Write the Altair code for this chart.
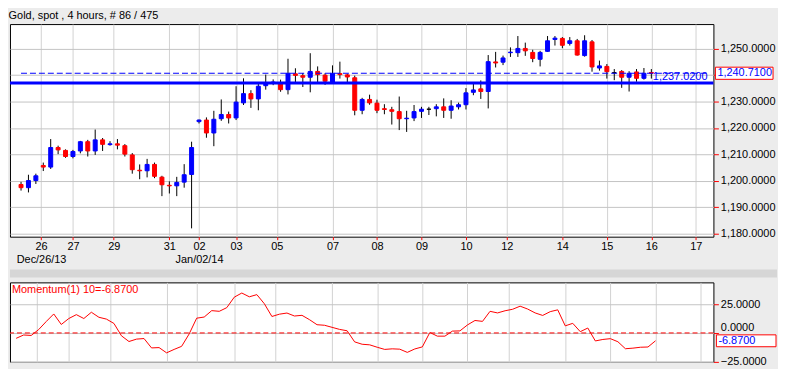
import altair as alt
import pandas as pd

title_text = "Gold, spot , 4 hours, # 86 / 475"

opens = [1198.6, 1197.4, 1200.1, 1205.8, 1205.2, 1212.6, 1211.5, 1209.2, 1211.3, 1214.8,
         1211.3, 1215.5, 1213.7, 1214.0, 1213.3, 1209.8, 1204.0, 1203.8, 1206.2, 1201.4,
         1198.3, 1198.1, 1199.5, 1202.4, 1222.4, 1223.0, 1218.1, 1223.5, 1225.1, 1223.8,
         1229.5, 1233.0, 1231.0, 1236.0, 1236.9, 1236.9, 1234.5, 1240.5, 1239.8, 1239.2,
         1241.4, 1240.0, 1237.4, 1240.6, 1240.1, 1239.0, 1226.7, 1230.8, 1229.4, 1227.3,
         1226.9, 1226.2, 1223.5, 1223.8, 1226.3, 1227.1, 1227.3, 1228.0, 1226.7, 1228.0,
         1228.8, 1233.5, 1234.8, 1233.8, 1245.0, 1244.9, 1248.5, 1248.5, 1250.1, 1248.6,
         1246.0, 1249.0, 1253.5, 1253.9, 1252.0, 1253.0, 1247.4, 1252.6, 1242.7, 1243.3,
         1240.9, 1241.4, 1239.2, 1241.2, 1238.8, 1241.0]
closes = [1197.4, 1200.1, 1201.9, 1205.2, 1212.6, 1211.7, 1209.2, 1211.1, 1214.8, 1211.3,
          1215.5, 1213.8, 1214.0, 1213.5, 1210.1, 1204.2, 1203.8, 1206.2, 1201.7, 1198.5,
          1198.1, 1199.4, 1202.3, 1212.6, 1223.0, 1218.1, 1223.3, 1225.1, 1223.8, 1229.8,
          1233.0, 1231.0, 1235.8, 1237.1, 1237.4, 1234.5, 1240.7, 1239.9, 1239.2, 1241.4,
          1240.2, 1237.7, 1240.7, 1240.2, 1239.3, 1226.7, 1230.8, 1229.5, 1226.7, 1227.0,
          1226.3, 1223.5, 1223.7, 1226.2, 1227.1, 1227.1, 1228.0, 1226.7, 1228.3, 1228.8,
          1233.3, 1234.4, 1233.8, 1245.1, 1244.6, 1246.5, 1248.7, 1250.1, 1249.2, 1246.3,
          1248.6, 1253.0, 1254.0, 1251.3, 1253.0, 1247.6, 1253.0, 1243.1, 1243.5, 1241.3,
          1240.9, 1239.2, 1240.7, 1238.8, 1240.7, 1240.71]
highs = [1199.6, 1202.3, 1202.7, 1206.9, 1215.8, 1213.3, 1211.9, 1211.7, 1215.1, 1215.5,
         1219.4, 1216.2, 1215.0, 1215.8, 1213.9, 1210.5, 1206.2, 1208.3, 1206.9, 1201.9,
         1199.8, 1201.5, 1206.3, 1214.8, 1223.2, 1224.0, 1226.5, 1230.8, 1226.2, 1235.8,
         1238.8, 1234.3, 1236.9, 1240.2, 1238.4, 1238.3, 1246.2, 1242.6, 1240.8, 1248.3,
         1243.3, 1240.7, 1243.7, 1245.1, 1240.5, 1239.8, 1231.4, 1232.6, 1230.7, 1229.0,
         1228.0, 1231.9, 1226.5, 1228.7, 1228.0, 1228.0, 1229.0, 1231.2, 1230.5, 1229.6,
         1235.1, 1237.0, 1238.0, 1247.6, 1248.8, 1247.4, 1250.5, 1254.8, 1252.3, 1249.6,
         1249.2, 1254.8, 1254.8, 1254.4, 1254.4, 1253.7, 1255.1, 1253.3, 1245.5, 1244.2,
         1242.3, 1241.9, 1241.5, 1242.3, 1242.7, 1242.3]
lows = [1196.3, 1195.6, 1198.8, 1203.7, 1204.5, 1210.1, 1208.7, 1208.5, 1210.4, 1209.2,
        1209.8, 1211.3, 1213.3, 1211.9, 1209.2, 1202.7, 1200.6, 1201.3, 1201.0, 1194.2,
        1195.2, 1194.2, 1197.4, 1182.0, 1221.7, 1216.3, 1213.1, 1222.7, 1221.7, 1223.0,
        1228.7, 1227.6, 1226.7, 1234.5, 1236.2, 1233.7, 1232.7, 1237.4, 1235.5, 1233.5,
        1237.4, 1236.3, 1236.7, 1238.7, 1236.7, 1224.8, 1225.2, 1228.8, 1225.6, 1225.2,
        1221.3, 1219.2, 1218.5, 1222.6, 1223.8, 1224.9, 1224.4, 1223.8, 1223.5, 1227.0,
        1227.0, 1232.4, 1231.0, 1227.4, 1242.9, 1243.8, 1246.9, 1246.9, 1247.3, 1244.9,
        1243.3, 1248.8, 1251.2, 1250.2, 1251.2, 1247.4, 1247.0, 1241.3, 1241.7, 1238.7,
        1238.1, 1235.2, 1233.8, 1237.5, 1238.3, 1238.7]
momentum = [-4.7, -1.8, -2.2, 3.0, 10.0, 16.6, 7.4, 12.6, 16.0, 12.6,
            18.1, 13.7, 12.1, 8.3, -2.5, -7.5, -5.4, -4.9, -13.1, -12.8,
            -17.4, -14.4, -11.7, -0.9, 12.9, 13.9, 19.5, 18.9, 22.1, 31.3,
            34.9, 31.6, 33.5, 25.5, 14.4, 16.4, 17.4, 14.8, 15.4, 11.6,
            7.2, 6.7, 4.9, 3.1, 1.9, -7.8, -9.9, -10.4, -12.5, -14.4,
            -13.9, -14.2, -17.0, -14.0, -12.2, 0.4, -2.8, -2.8, 1.6, 1.8,
            7.0, 10.9, 10.1, 18.9, 17.5, 19.4, 20.7, 23.4, 20.9, 17.5,
            15.3, 18.6, 20.2, 6.2, 8.4, 1.1, 4.3, -7.0, -5.7, -5.0,
            -7.7, -13.8, -13.3, -12.5, -12.3, -6.87]

day_pos = [2.7, 7, 12.5, 20, 24, 29, 34.5, 42, 48, 54, 60, 65.5, 73, 79, 85, 91]
day_labels = ["26", "27", "29", "31", "02", "03", "05", "07", "08", "09", "10", "12", "14", "15", "16", "17"]
month_labels = ["Dec/26/13", "", "", "", "Jan/02/14", "", "", "", "", "", "", "", "", "", "", ""]
price_ticks = [1180, 1190, 1200, 1210, 1220, 1230, 1240, 1250]
hidden_price_label = 1240  # covered by the last-price box
mom_ticks = [-25, 0, 25]
support_level = 1237.02
support_text = "1,237.0200"
last_close = 1240.71
last_close_text = "1,240.7100"
last_mom = -6.87
last_mom_text = "-6.8700"
mom_title = "Momentum(1) 10=-6.8700"

x_min, x_max = -0.82, 92.7
top_min, top_max = 1178.85, 1259.33
mom_min, mom_max = -25.3, 44.2

W = 708
H_TOP = 214
H_BOT = 80
FONT = "Liberation Sans"
BLUE = "#0000FF"
RED = "#FF0000"
GRID = "#D2D2D2"
HGRID = "#C4C4C4"
BG = "#ECECEC"

def direction(o, c):
    if c > o:
        return "up"
    if c < o:
        return "down"
    return "flat"

candles = pd.DataFrame({
    "idx": list(range(len(opens))),
    "open": opens, "high": highs, "low": lows, "close": closes,
})
candles["dir"] = [direction(o, c) for o, c in zip(opens, closes)]
mom_df = pd.DataFrame({"idx": list(range(len(momentum))), "mom": momentum})
one = pd.DataFrame({"k": [0]})

entries = []
for d, m in zip(day_labels, month_labels):
    entries.append(f"['{d}','{m}']" if m else f"'{d}'")
label_expr = "[" + ",".join(entries) + "][indexof([" + ",".join(str(p) for p in day_pos) + "], datum.value)]"
price_label_expr = f"datum.value == {hidden_price_label} ? '' : format(datum.value, ',.4f')"

xscale = alt.Scale(domain=[x_min, x_max], nice=False, zero=False)
yscale_top = alt.Scale(domain=[top_min, top_max], nice=False, zero=False)
yscale_bot = alt.Scale(domain=[mom_min, mom_max], nice=False, zero=False)
dirscale = alt.Scale(domain=["up", "down", "flat"], range=[BLUE, RED, "black"])

x_axis_top = alt.Axis(values=day_pos, tickCount=len(day_pos) + 4, labelExpr=label_expr, grid=True,
                      gridColor=GRID, tickColor=RED, tickSize=3, domain=False, labelFont=FONT,
                      labelFontSize=11, labelColor="black", labelPadding=1, labelLineHeight=13,
                      labelFlush=False, labelOverlap=False)
y_axis_top = alt.Axis(orient="right", values=price_ticks, tickCount=len(price_ticks) + 4,
                      labelExpr=price_label_expr, grid=True, gridColor=HGRID, gridWidth=1,
                      tickColor=RED, tickSize=5, domain=False, labelFont=FONT, labelFontSize=11,
                      labelColor="black", labelPadding=2, labelOverlap=False, labelFlush=False)
x_axis_bot = alt.Axis(values=day_pos, tickCount=len(day_pos) + 4, labels=False, ticks=False,
                      domain=False, grid=True, gridColor=GRID)
y_axis_bot = alt.Axis(orient="right", values=mom_ticks, tickCount=len(mom_ticks) + 4, format=".4f",
                      grid=True, gridColor=HGRID, gridWidth=1, tickColor=RED, tickSize=5, domain=False,
                      labelFont=FONT, labelFontSize=11, labelColor="black", labelPadding=2,
                      labelOverlap=False, labelFlush=False,
                      labelBaseline=alt.condition("datum.value == 0", alt.value("bottom"), alt.value("middle")))

X_TOP = lambda f: alt.X(f, scale=xscale, axis=x_axis_top, title=None)
Y_TOP = lambda f: alt.Y(f, scale=yscale_top, axis=y_axis_top, title=None)

wicks = alt.Chart(candles).mark_rule(color="black", strokeWidth=1).encode(
    x=X_TOP("idx:Q"), y=Y_TOP("low:Q"), y2="high:Q")
bodies = alt.Chart(candles).mark_bar(size=4, strokeWidth=1).encode(
    x=X_TOP("idx:Q"), y=Y_TOP("open:Q"), y2="close:Q",
    fill=alt.Fill("dir:N", scale=dirscale, legend=None),
    stroke=alt.Stroke("dir:N", scale=dirscale, legend=None))
support = alt.Chart(one).mark_rule(color=BLUE, strokeWidth=2.8).encode(
    y=alt.datum(support_level))
last_line = alt.Chart(one).mark_rule(color=BLUE, strokeWidth=1, strokeDash=[6, 3]).encode(
    x=alt.datum(0), x2=alt.datum(x_max), y=alt.datum(last_close))
support_label = alt.Chart(one).mark_text(
    text=support_text, color=BLUE, font=FONT, fontSize=11, align="right", baseline="alphabetic", dy=-3, dx=-1
).encode(x=alt.datum(x_max), y=alt.datum(support_level))
box_top = alt.Chart(one).mark_rect(fill="white", stroke=RED, strokeWidth=1).encode(
    x=alt.value(W + 2), x2=alt.value(W + 60),
    y=alt.datum(last_close + 2.3), y2=alt.datum(last_close - 2.3))
box_top_text = alt.Chart(one).mark_text(
    text=last_close_text, color=BLUE, font=FONT, fontSize=11, align="left", baseline="middle"
).encode(x=alt.value(W + 4), y=alt.datum(last_close))

top = alt.layer(wicks, bodies, support, last_line, support_label, box_top, box_top_text).properties(
    width=W, height=H_TOP,
    title=alt.TitleParams(title_text, anchor="start", font=FONT, fontSize=11, fontWeight="normal",
                          color="black", offset=3))

strip = alt.Chart(one).mark_rect(color="#D6D6D6").encode(
    x=alt.value(0), x2=alt.value(W + 64), y=alt.value(0), y2=alt.value(8)
).properties(width=W, height=8, view=alt.ViewBackground(stroke="transparent", fill="transparent"))

X_BOT = alt.X("idx:Q", scale=xscale, axis=x_axis_bot, title=None)
mom_line = alt.Chart(mom_df).mark_line(color=RED, strokeWidth=1).encode(
    x=X_BOT, y=alt.Y("mom:Q", scale=yscale_bot, axis=y_axis_bot, title=None))
zero_line = alt.Chart(one).mark_rule(color=RED, strokeWidth=1, strokeDash=[5, 3]).encode(
    y=alt.datum(0))
mom_label = alt.Chart(one).mark_text(
    text=mom_title, color=RED, font=FONT, fontSize=11, align="left", baseline="top", dx=2, dy=2
).encode(x=alt.datum(x_min), y=alt.datum(mom_max))
box_bot = alt.Chart(one).mark_rect(fill="white", stroke=RED, strokeWidth=1).encode(
    x=alt.value(W + 3), x2=alt.value(W + 63),
    y=alt.datum(last_mom + 5.2), y2=alt.datum(last_mom - 5.2))
box_bot_text = alt.Chart(one).mark_text(
    text=last_mom_text, color=BLUE, font=FONT, fontSize=11, align="left", baseline="middle"
).encode(x=alt.value(W + 5), y=alt.datum(last_mom))

bottom = alt.layer(mom_line, zero_line, mom_label, box_bot, box_bot_text).properties(
    width=W, height=H_BOT)

chart = alt.vconcat(top, strip, bottom, spacing=3).properties(
    background=BG, padding=0
).configure_view(stroke="black", strokeWidth=1, fill="white")

chart.save("out.html", embed_options={"renderer": "svg", "actions": False})
